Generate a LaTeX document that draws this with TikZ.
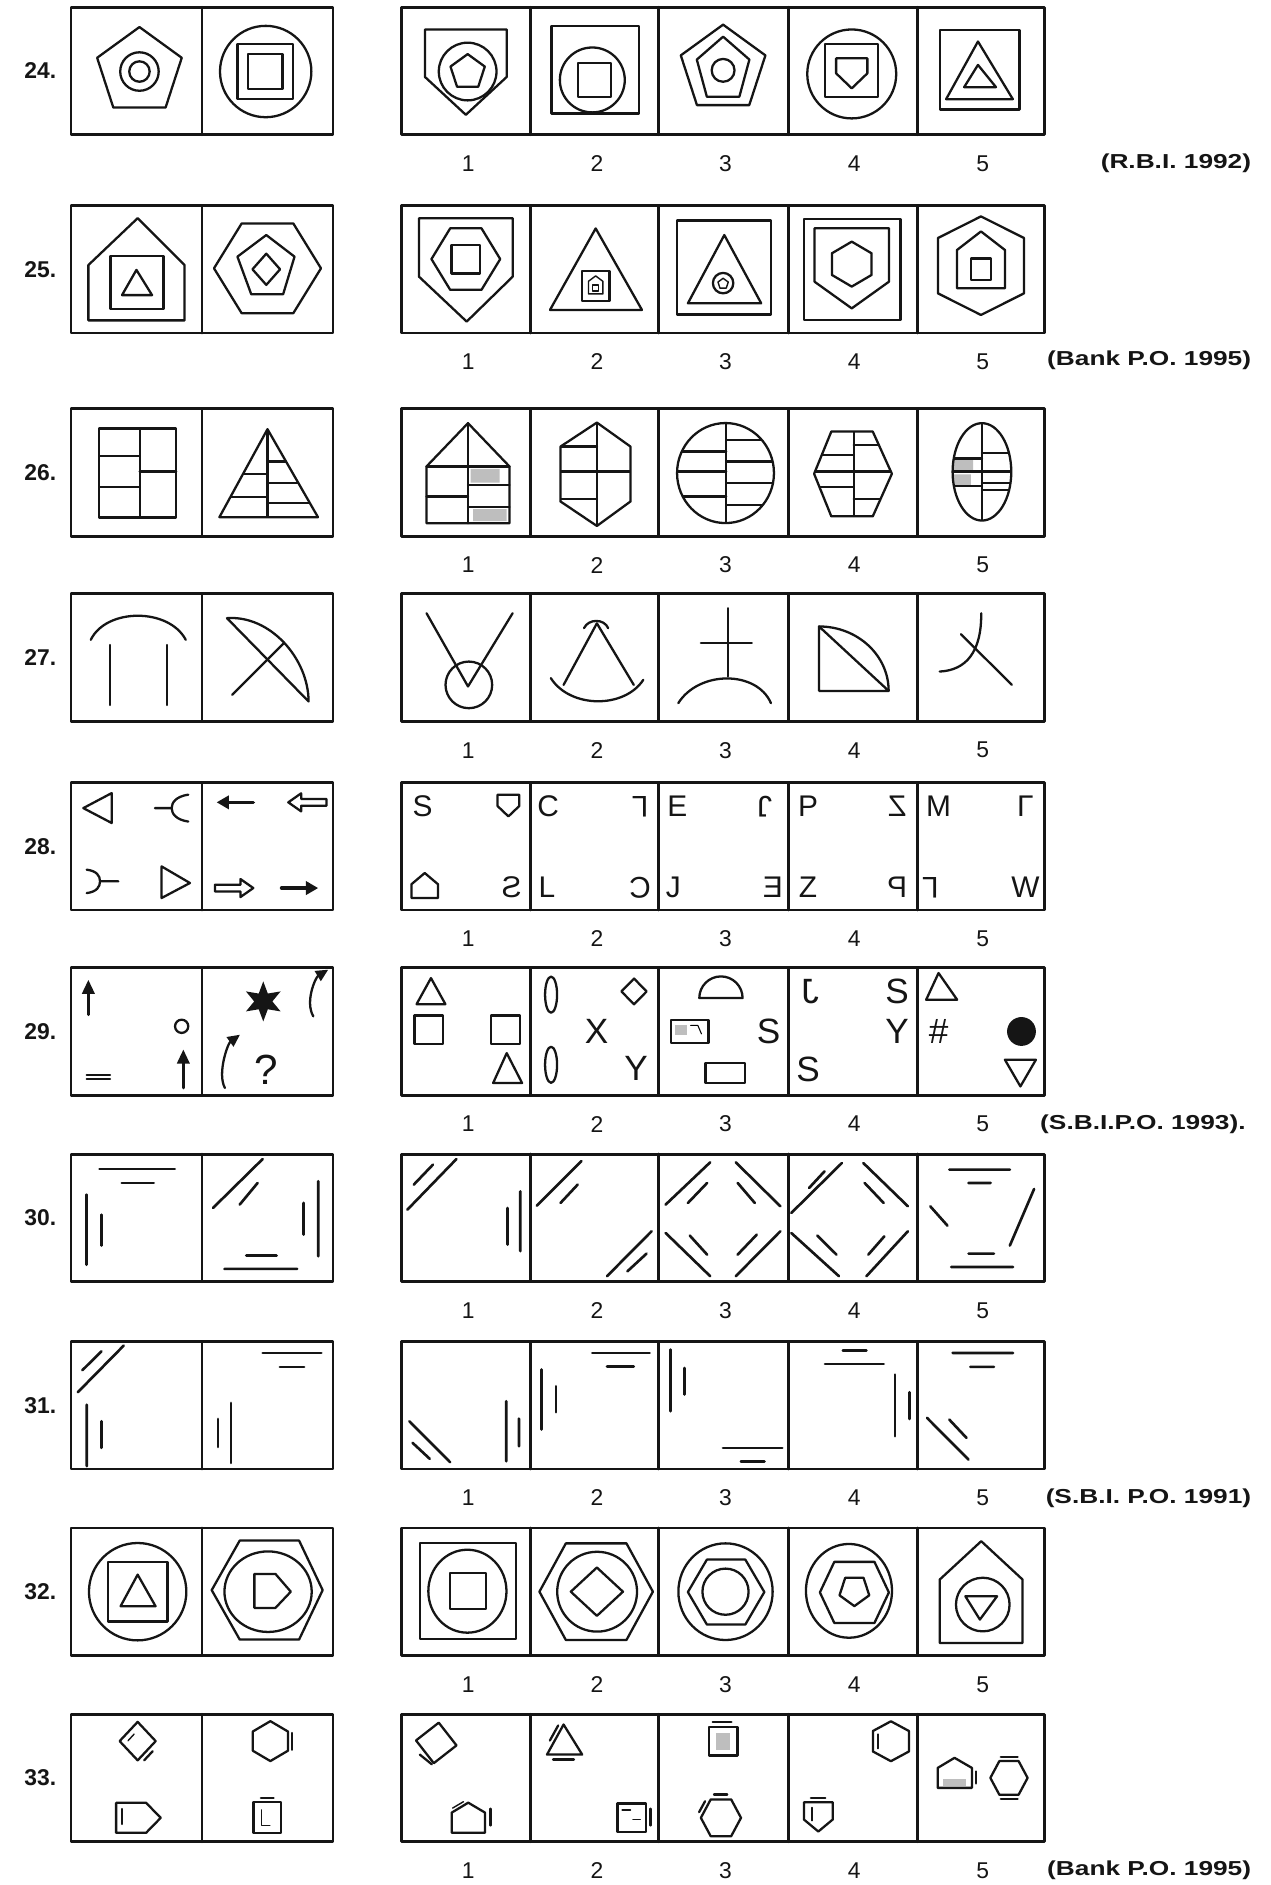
\documentclass[tikz,border=0pt]{standalone}
\usepackage{fontspec}
\setmainfont{Liberation Sans}
\newfontfamily\srcfont[FakeStretch=1.3]{Liberation Sans}
\usepackage{graphicx}
\usepackage{tikz}
\usetikzlibrary{positioning,calc,arrows.meta,shapes.geometric}
\definecolor{pen}{HTML}{151515}
\definecolor{tint}{HTML}{BEBEBE}

\tikzset{
  frame/.style={draw=pen,line width=1.6pt},
  fig/.style={draw=pen,line width=1.3pt},
  bar/.style={draw=pen,line width=1.5pt},
  glyph/.style={inner sep=0pt,text=pen,font=\fontsize{17}{17}\selectfont},
  bigglyph/.style={inner sep=0pt,text=pen,font=\fontsize{20}{20}\selectfont},
  qlabel/.style={anchor=east,inner sep=0pt,text=pen,font=\bfseries\fontsize{13}{13}\selectfont},
  optnum/.style={inner sep=0pt,text=pen,font=\fontsize{13}{13}\selectfont},
  src/.style={inner sep=0pt,text=pen,font=\srcfont\bfseries\fontsize{11.5}{12}\selectfont},
  solid arrow/.style={fig,line width=2pt,-{Triangle[length=7pt,width=7.5pt]}},
  bent arrow/.style={fig,-{Triangle[length=7pt,width=6.5pt]}}
}

% regular-ish outlines, centre given as (x,y)
\newcommand\pentup[4][]{\draw[fig,#1] #2 +(-90:#3 and #4) -- +(-18:#3 and #4) -- +(54:#3 and #4) -- +(126:#3 and #4) -- +(198:#3 and #4) -- cycle;}
\newcommand\pentdown[4][]{\draw[fig,#1] #2 +(90:#3 and #4) -- +(162:#3 and #4) -- +(234:#3 and #4) -- +(306:#3 and #4) -- +(18:#3 and #4) -- cycle;}
\newcommand\hexlr[5][]{\draw[fig,#1] #2 +(-#3,0) -- +(-#4,-#5) -- +(#4,-#5) -- +(#3,0) -- +(#4,#5) -- +(-#4,#5) -- cycle;}
\newcommand\hexud[5][]{\draw[fig,#1] #2 +(0,-#3) -- +(#4,-#5) -- +(#4,#5) -- +(0,#3) -- +(-#4,#5) -- +(-#4,-#5) -- cycle;}

\begin{document}
\begin{tikzpicture}[x=0.02405cm,y=-0.02405cm,line cap=round,line join=round]
  \path[use as bounding box,fill=white] (0,0) rectangle (1057,1568);

  % frames, question numbers and answer numbers
  \foreach \t/\q in {6/24,171/25,340/26,494/27,651/28,805/29,960/30,1116/31,1271/32,1426/33}{
    \draw[frame] (59,\t) rectangle ++(218,106);
    \draw[frame] (168,\t) -- ++(0,106);
    \draw[frame] (334,\t) rectangle ++(535,106);
    \foreach \x in {441,548,656,763} \draw[frame] (\x,\t) -- ++(0,106);
    \node[qlabel] (q\q) at (47,\t+53) {\q.};
    \foreach \k in {1,...,5} \node[optnum] (o\q-\k) at ({389.5+107*(\k-1)},\t+130) {\k};
  }

  \node[src,anchor=east] (s24) at (1041,136) {(R.B.I. 1992)};
  \node[src,anchor=east] (s25) at (1041,300) {(Bank P.O. 1995)};
  \node[src,anchor=west] (s29) at (865,935) {(S.B.I.P.O. 1993).};
  \node[src,anchor=east] (s31) at (1041,1246) {(S.B.I. P.O. 1991)};
  \node[src,anchor=east] (s33) at (1041,1556) {(Bank P.O. 1995)};

  % row 24
  \begin{scope}[shift={(113.5,59.5)}]
    \pentup{(2.5,0)}{37}{37}
    \draw[fig] (2.5,0) circle (16) (2.5,0) circle (8.5);
  \end{scope}
  \begin{scope}[shift={(222.5,59.5)}]
    \draw[fig] (-1.5,0) circle (38);
    \draw[fig] (-2,0) +(-23,-23) rectangle +(23,23) +(-14.5,-14.5) rectangle +(14.5,14.5);
  \end{scope}
  \begin{scope}[shift={(387.5,59.5)}]
    \draw[fig] (-34,-35) -- (34,-35) -- (34,4.5) -- (0,36) -- (-34,4.5) -- cycle;
    \draw[fig] (1.5,0) circle (24);
    \pentup{(1.5,0.5)}{15}{15}
  \end{scope}
  \begin{scope}[shift={(494.5,59.5)}]
    \draw[fig] (0.8,-1.6) +(-36.5,-36.5) rectangle +(36.5,36.5);
    \draw[fig] (-1.8,7) circle (27);
    \draw[fig] (0,7) +(-14,-14) rectangle +(14,14);
  \end{scope}
  \begin{scope}[shift={(601.5,59.5)}]
    \pentup{(0,-2)}{37}{37}
    \pentup{(0,-1.4)}{23}{27.6}
    \draw[fig] (0,-1) circle (9.5);
  \end{scope}
  \begin{scope}[shift={(708.5,59.5)}]
    \draw[fig] (0,2) circle (37);
    \draw[fig] (0,-1) +(-22,-22) rectangle +(22,22);
    \draw[fig] (-13,-11) -- (13,-11) -- (13,1.5) -- (0,14) -- (-13,1.5) -- cycle;
  \end{scope}
  \begin{scope}[shift={(815.5,59.5)}]
    \draw[fig] (-0.5,-1.5) +(-33,-33) rectangle +(33,33);
    \draw[fig] (-2,-25) -- (27,23) -- (-28.5,23) -- cycle;
    \draw[fig] (-2,-5.5) -- (13,13) -- (-13.5,13) -- cycle;
  \end{scope}

  % row 25
  \begin{scope}[shift={(113.5,224.5)}]
    \draw[fig] (1,-43) -- (40,-4) -- (40,42) -- (-40,42) -- (-40,-4) -- cycle;
    \draw[fig] (0.5,10.5) +(-22,-22) rectangle +(22,22);
    \draw[fig] (0,0) -- (13,21) -- (-12,21) -- cycle;
  \end{scope}
  \begin{scope}[shift={(222.5,224.5)}]
    \hexlr{(0,-1.3)}{44.5}{21.5}{37.3}
    \draw[fig] (-1,-29) -- (22.5,-11) -- (13,20.3) -- (-13.5,20.3) -- (-25,-11) -- cycle;
    \draw[fig] (-1,-13.5) -- (10.5,-0.5) -- (-1,12.5) -- (-12.5,-0.5) -- cycle;
  \end{scope}
  \begin{scope}[shift={(387.5,224.5)}]
    \draw[fig] (-39,-43) -- (39,-43) -- (39,5.6) -- (0.7,43) -- (-39,5.6) -- cycle;
    \hexlr{(0,-9)}{28.6}{13}{25.6}
    \draw[fig] (0,-9) +(-12,-12) rectangle +(12,12);
  \end{scope}
  \begin{scope}[shift={(494.5,224.5)}]
    \draw[fig] (1,-34.5) -- (39.5,33.3) -- (-37,33.3) -- cycle;
    \draw[fig] (1,13.3) +(-11.5,-12.5) rectangle +(11.5,12.5);
    \draw[fig,line width=0.8pt] (1,5) -- (7,9.5) -- (7,20) -- (-5,20) -- (-5,9.5) -- cycle;
    \draw[fig,line width=0.8pt] (1,15) +(-2.5,-2.5) rectangle +(2.5,2.5);
  \end{scope}
  \begin{scope}[shift={(601.5,224.5)}]
    \draw[fig] (0.7,-2) +(-39,-39) rectangle +(39,39);
    \draw[fig] (1,-29) -- (31.7,27.8) -- (-29.3,27.8) -- cycle;
    \draw[fig] (0,11) circle (8.5);
    \pentup[line width=0.8pt]{(0,11.5)}{4.5}{4.5}
  \end{scope}
  \begin{scope}[shift={(708.5,224.5)}]
    \draw[fig] (-39.5,-42.5) rectangle (40.5,41.5);
    \draw[fig] (-31,-34.6) -- (31,-34.6) -- (31,9.8) -- (0,32) -- (-31,9.8) -- cycle;
    \hexud{(0,-4.8)}{18.7}{16.5}{9}
  \end{scope}
  \begin{scope}[shift={(815.5,224.5)}]
    \hexud{(0.5,-3.5)}{41}{35.8}{23}
    \draw[fig] (0.5,-32) -- (20.5,-16.5) -- (20.5,15.3) -- (-19.5,15.3) -- (-19.5,-16.5) -- cycle;
    \draw[fig] (0.5,-0.5) +(-8.5,-9) rectangle +(8.5,9);
  \end{scope}

  % row 26
  \begin{scope}[shift={(113.5,393.5)}]
    \draw[fig] (-31,-37) rectangle (33,37);
    \draw[fig] (2.7,-37) -- (2.7,37) (-31,-14.3) -- (2.7,-14.3) (-31,11.7) -- (2.7,11.7) (2.7,-1.3) -- (33,-1.3);
  \end{scope}
  \begin{scope}[shift={(222.5,393.5)}]
    \begin{scope}
      \clip (0,-36.5) -- (42,36.7) -- (-40,36.7) -- cycle;
      \draw[fig] (0,-40) -- (0,40) (-45,0.6) -- (0,0.6) (-45,20) -- (0,20) (0,-9.6) -- (45,-9.6) (0,8.4) -- (45,8.4) (0,25) -- (45,25);
    \end{scope}
    \draw[fig] (0,-36.5) -- (42,36.7) -- (-40,36.7) -- cycle;
  \end{scope}
  \begin{scope}[shift={(387.5,393.5)}]
    \fill[tint] (4,-3.5) rectangle (28,8) (6,30) rectangle (34,40);
    \draw[fig] (1.8,-41.5) -- (36.3,-5.5) -- (36.3,41.7) -- (-32.7,41.7) -- (-32.7,-5.5) -- cycle;
    \draw[fig] (1.8,-41.5) -- (1.8,41.7) (-32.7,-5.5) -- (36.3,-5.5) (-32.7,19.5) -- (1.8,19.5) (1.8,9.8) -- (36.3,9.8) (1.8,28.4) -- (36.3,28.4);
  \end{scope}
  \begin{scope}[shift={(494.5,393.5)}]
    \begin{scope}
      \clip (2,-42) -- (30,-22) -- (30,23.6) -- (2,44) -- (-28.3,23.6) -- (-28.3,-22) -- cycle;
      \draw[fig] (2,-45) -- (2,45) (-35,-1.3) -- (35,-1.3) (-35,-22) -- (2,-22) (-35,21.7) -- (2,21.7);
    \end{scope}
    \draw[fig] (2,-42) -- (30,-22) -- (30,23.6) -- (2,44) -- (-28.3,23.6) -- (-28.3,-22) -- cycle;
  \end{scope}
  \begin{scope}[shift={(601.5,393.5)}]
    \begin{scope}
      \clip (2,0) ellipse [x radius=40.3,y radius=41.6];
      \draw[fig] (2.6,-45) -- (2.6,45) (-45,-18) -- (2.6,-18) (-45,-1.3) -- (2.6,-1.3) (-45,19.5) -- (2.6,19.5)
        (2.6,-27.6) -- (45,-27.6) (2.6,-9.6) -- (45,-9.6) (2.6,8.4) -- (45,8.4) (2.6,26.4) -- (45,26.4);
    \end{scope}
    \draw[fig] (2,0) ellipse [x radius=40.3,y radius=41.6];
  \end{scope}
  \begin{scope}[shift={(708.5,393.5)}]
    \begin{scope}
      \clip (-31.3,0.6) -- (-17,-34.5) -- (17.5,-34.5) -- (33.4,0.6) -- (17.5,36) -- (-17,36) -- cycle;
      \draw[fig] (1.6,-40) -- (1.6,40) (-35,-1.3) -- (35,-1.3) (-35,-15.2) -- (1.6,-15.2) (-35,11.7) -- (1.6,11.7)
        (1.6,-23.5) -- (35,-23.5) (1.6,21.7) -- (35,21.7);
    \end{scope}
    \draw[fig] (-31.3,0.6) -- (-17,-34.5) -- (17.5,-34.5) -- (33.4,0.6) -- (17.5,36) -- (-17,36) -- cycle;
  \end{scope}
  \begin{scope}[shift={(815.5,393.5)}]
    \begin{scope}
      \clip (1.3,-1) ellipse [x radius=24.4,y radius=40.5];
      \fill[tint] (-22,-11) rectangle (-6,-2.5) (-22,1) rectangle (-8,10);
      \draw[fig] (1.3,-45) -- (1.3,45) (-25,-1.3) -- (28,-1.3) (-25,-12) -- (1.3,-12) (-25,11) -- (1.3,11)
        (1.3,-16.5) -- (28,-16.5) (1.3,8.4) -- (28,8.4) (1.3,14) -- (28,14);
    \end{scope}
    \draw[fig] (1.3,-1) ellipse [x radius=24.4,y radius=40.5];
  \end{scope}

  % row 27
  \begin{scope}[shift={(113.5,547.5)}]
    \draw[fig] (-38,-15.3) .. controls (-25,-42) and (27,-42) .. (41,-15.3);
    \draw[fig] (-22,-11) -- (-22,39) (25.5,-11) -- (25.5,39);
  \end{scope}
  \begin{scope}[shift={(222.5,547.5)}]
    \draw[fig] (-33.7,-33.3) .. controls (2,-36) and (34,0) .. (34.2,36) -- cycle;
    \draw[fig] (-29.4,30.5) -- (14,-13);
  \end{scope}
  \begin{scope}[shift={(387.5,547.5)}]
    \draw[fig] (-32.7,-37.4) -- (1.8,23.5) -- (38.9,-37.4);
    \draw[fig] (2.5,22.2) circle (19.4);
  \end{scope}
  \begin{scope}[shift={(494.5,547.5)}]
    \draw[fig] (-25.7,22.2) -- (2,-29) -- (32.7,22.2);
    \draw[fig] (-36.3,16.6) .. controls (-20,42) and (25,42) .. (40.6,18);
    \draw[fig] (-8.7,-25) .. controls (-5,-33) and (8,-33) .. (11.4,-25);
  \end{scope}
  \begin{scope}[shift={(601.5,547.5)}]
    \draw[fig] (4.2,-41.6) -- (4.2,15.2) (-18.5,-12.5) -- (23.9,-12.5);
    \draw[fig] (-37.3,37.4) .. controls (-20,10) and (28,10) .. (39.8,37.4);
  \end{scope}
  \begin{scope}[shift={(708.5,547.5)}]
    \draw[fig] (-27.2,-26.4) -- (-27.2,27.2) -- (30.7,27.2) -- cycle;
    \draw[fig] (-27.2,-26.4) .. controls (4.8,-26.4) and (30.7,-2.4) .. (30.7,27.2);
  \end{scope}
  \begin{scope}[shift={(815.5,547.5)}]
    \draw[fig] (0.7,-37.4) .. controls (1,-5) and (-12,10) .. (-33.8,11.1);
    \draw[fig] (-16.2,-20) -- (26.2,22.2);
  \end{scope}

  % row 28
  \begin{scope}[shift={(113.5,704.5)}]
    \draw[fig] (-44.2,-32.3) -- (-20.6,-44.8) -- (-20.6,-19.9) -- cycle;
    \draw[fig] (15.4,-32.3) -- (29.3,-32.3) (43.1,-43.5) .. controls (33,-42) and (29.3,-37) .. (29.3,-32.3) .. controls (29.3,-27.6) and (33,-22.6) .. (43.1,-21.1);
    \draw[fig] (-15.1,28.6) -- (-30.3,28.6) (-41.4,18.9) .. controls (-33,20) and (-30.3,24) .. (-30.3,28.6) .. controls (-30.3,33.2) and (-33,37.3) .. (-41.4,38.4);
    \draw[fig] (20.9,16.2) -- (44.5,30) -- (20.9,42.5) -- cycle;
  \end{scope}
  \begin{scope}[shift={(222.5,704.5)}]
    \draw[solid arrow] (-11.8,-37.1) -- (-42.3,-37.1);
    \draw[fig] (17.3,-37.1) -- (28,-44.6) -- (28,-39.9) -- (49.1,-39.9) -- (49.1,-34.3) -- (28,-34.3) -- (28,-29.6) -- cycle;
    \draw[fig] (-11.8,34.2) -- (-22.5,26.7) -- (-22.5,31.4) -- (-43.7,31.4) -- (-43.7,37) -- (-22.5,37) -- (-22.5,41.7) -- cycle;
    \draw[solid arrow] (11.7,34.2) -- (42.2,34.2);
  \end{scope}
  \begin{scope}[shift={(387.5,704.5)}]
    \node[glyph] (l281a) at (-36,-33.7) {S};
    \draw[fig] (26.4,-43.5) -- (44.4,-43.5) -- (44.4,-34) -- (35.4,-25.4) -- (26.4,-34) -- cycle;
    \draw[fig] (-34.2,21.7) -- (-23.2,31) -- (-23.2,42.5) -- (-45.2,42.5) -- (-45.2,31) -- cycle;
    \node[glyph] (l281d) at (38.2,33.7) {\scalebox{-1}[1]{S}};
  \end{scope}
  \begin{scope}[shift={(494.5,704.5)}]
    \node[glyph] (l282a) at (-38.5,-33.7) {C};
    \node[glyph] (l282b) at (38,-33.7) {\rotatebox{180}{L}};
    \node[glyph] (l282c) at (-39.5,33.7) {L};
    \node[glyph] (l282d) at (38,33.7) {\rotatebox{180}{C}};
  \end{scope}
  \begin{scope}[shift={(601.5,704.5)}]
    \node[glyph] (l283a) at (-38,-33.7) {E};
    \node[glyph] (l283b) at (34.5,-33.7) {\rotatebox{180}{J}};
    \node[glyph] (l283c) at (-41.5,33.7) {J};
    \node[glyph] (l283d) at (41.5,33.7) {\scalebox{-1}[1]{E}};
  \end{scope}
  \begin{scope}[shift={(708.5,704.5)}]
    \node[glyph] (l284a) at (-36.4,-33.7) {P};
    \node[glyph] (l284b) at (37.8,-33.7) {\scalebox{-1}[1]{Z}};
    \node[glyph] (l284c) at (-36.4,33.7) {Z};
    \node[glyph] (l284d) at (37.8,33.7) {\scalebox{-1}[1]{P}};
  \end{scope}
  \begin{scope}[shift={(815.5,704.5)}]
    \node[glyph] (l285a) at (-34.8,-33.7) {M};
    \node[glyph] (l285b) at (37.5,-33.7) {Γ};
    \node[glyph] (l285c) at (-41.7,33.7) {\rotatebox{180}{L}};
    \node[glyph] (l285d) at (37.5,33.7) {W};
  \end{scope}

  % row 29
  \begin{scope}[shift={(113.5,858)}]
    \draw[fig,line width=1.6pt,-{Triangle[length=8pt,width=7pt]}] (-40,-14) -- (-40,-43);
    \draw[fig] (37.6,-4.3) circle (5.5);
    \draw[fig,line width=1.6pt,-{Triangle[length=8pt,width=7pt]}] (39,47) -- (39,15);
    \draw[fig] (-41.4,36) -- (-22,36) (-41.4,39.5) -- (-22,39.5);
  \end{scope}
  \begin{scope}[shift={(222.5,858)}]
    \node[star,star points=6,star point ratio=2.2,fill=pen,inner sep=0pt,minimum size=0.8cm] (star29) at (-3.5,-25) {};
    \draw[bent arrow] (38.1,-12.6) .. controls (31,-25) and (40,-45) .. (50.5,-51.4);
    \draw[bent arrow] (-35.4,47) .. controls (-42,35) and (-33,10) .. (-22.9,2.7);
    \node[bigglyph,font=\fontsize{24}{24}\selectfont] (qm29) at (-0.7,31.8) {?};
  \end{scope}
  \begin{scope}[shift={(387.5,858)}]
    \draw[fig] (-29,-44.4) -- (-17,-22.7) -- (-41,-22.7) -- cycle;
    \draw[fig] (-30.8,-1.4) +(-12,-12) rectangle +(12,12);
    \draw[fig] (33,-1.4) +(-12,-12) rectangle +(12,12);
    \draw[fig] (34,18) -- (46.8,42.9) -- (22.7,42.9) -- cycle;
  \end{scope}
  \begin{scope}[shift={(494.5,858)}]
    \draw[fig] (-36.1,-30.6) ellipse [x radius=5,y radius=15];
    \draw[fig] (-36.1,27.7) ellipse [x radius=5,y radius=15];
    \draw[fig] (32.9,-44) -- (43.4,-33.3) -- (32.9,-22.6) -- (22.4,-33.3) -- cycle;
    \node[bigglyph] (l292x) at (1.8,0) {X};
    \node[bigglyph] (l292y) at (34.6,30.4) {Y};
  \end{scope}
  \begin{scope}[shift={(601.5,858)}]
    \draw[fig] (-19.8,-27.8) arc[start angle=180,end angle=360,radius=18] -- cycle;
    \fill[tint] (-40,-5) rectangle (-30,3);
    \draw[fig] (-43.1,-9.7) rectangle (-12.1,9.7);
    \draw[line width=0.6pt] (-27,-5) -- (-21,-5) -- (-18,2);
    \node[bigglyph] (l293s) at (37.9,0) {S};
    \draw[fig] (-14.7,26.3) rectangle (18.1,42.9);
  \end{scope}
  \begin{scope}[shift={(708.5,858)}]
    \node[bigglyph] (l294a) at (-34.6,-33.3) {\scalebox{-1}[1]{J}};
    \node[bigglyph] (l294b) at (37.8,-33.3) {S};
    \node[bigglyph] (l294c) at (37.8,0) {Y};
    \node[bigglyph] (l294d) at (-36.4,31.8) {S};
  \end{scope}
  \begin{scope}[shift={(815.5,858)}]
    \draw[fig] (-34.8,-48.6) -- (-19.3,-26.4) -- (-45.1,-26.4) -- cycle;
    \node[bigglyph] (l295h) at (-34.8,0) {\#};
    \fill[pen] (34.2,0) circle (12);
    \draw[fig] (20.4,23.5) -- (46.2,23.5) -- (33.3,45.7) -- cycle;
  \end{scope}

  % row 30
  \begin{scope}[shift={(113.5,1013.5)}]
    \draw[bar] (-30.7,-41.1) -- (31.9,-41.1) (-12.2,-29.5) -- (14.4,-29.5) (-41.3,-19.8) -- (-41.3,38.5) (-29.1,-3.1) -- (-29.1,22.6);
  \end{scope}
  \begin{scope}[shift={(222.5,1013.5)}]
    \draw[bar] (-45.3,-8.7) -- (-4,-49.4) (-23.1,-11.5) -- (-8.2,-29.5) (42.2,-31) -- (42.2,31.5) (30,-13) -- (30,13.5)
      (-17.7,30.9) -- (7.7,30.9) (-35.8,42) -- (24.7,42);
  \end{scope}
  \begin{scope}[shift={(387.5,1013.5)}]
    \draw[bar] (-48.6,-7.3) -- (-7.8,-49.4) (-43.3,-28.1) -- (-27.4,-44.7) (45.3,-22.5) -- (45.3,27.3) (34.7,-8.7) -- (34.7,21.8);
  \end{scope}
  \begin{scope}[shift={(494.5,1013.5)}]
    \draw[bar] (-47.9,-10.6) -- (-10.8,-47.7) (-28.3,-12.8) -- (-14,-28.1) (10.4,48.1) -- (47.5,10.7) (27.4,44) -- (43.3,29.3);
  \end{scope}
  \begin{scope}[shift={(601.5,1013.5)}]
    \draw[bar] (-47.8,-11.5) -- (-10.7,-46.7) (-29.3,-12.8) -- (-13.3,-29.5)
      (10.5,-46.7) -- (47.6,-10.1) (12.1,-29.5) -- (26.4,-12.8)
      (-47.8,12.1) -- (-10.7,48.1) (-27.7,14.3) -- (-13.3,30.1)
      (10.5,48.1) -- (47.6,10.7) (12.1,30.1) -- (28,13.5);
  \end{scope}
  \begin{scope}[shift={(708.5,1013.5)}]
    \draw[bar] (-50.3,-4.5) -- (-8.2,-46.1) (-35.5,-25.3) -- (-22.6,-39.2)
      (9.6,-46.1) -- (46.7,-10.1) (10.7,-29.5) -- (26.6,-12.8)
      (-50.3,12.1) -- (-10.6,48.1) (-28.6,14.3) -- (-12.7,30.1)
      (12.2,48.1) -- (46.7,10.7) (13.8,30.1) -- (27.1,14.9);
  \end{scope}
  \begin{scope}[shift={(815.5,1013.5)}]
    \draw[bar] (-25.8,-40.6) -- (24.5,-40.6) (-9.9,-29.5) -- (8.6,-29.5) (-41.7,-10.1) -- (-27.4,6) (44.7,-24.5) -- (24.5,22.6)
      (-9.9,29.3) -- (11.3,29.3) (-24.2,40.4) -- (27.2,40.4);
  \end{scope}

  % row 31
  \begin{scope}[shift={(113.5,1169)}]
    \draw[bar] (-48.8,-10.9) -- (-10.6,-49.7) (-45,-29.2) -- (-29.1,-45) (-41.3,-0.6) -- (-41.3,50.6) (-29.1,13.2) -- (-29.1,35.4);
  \end{scope}
  \begin{scope}[shift={(222.5,1169)}]
    \draw[bar] (-4,-43.6) -- (44.8,-43.6) (10.3,-32) -- (30.5,-32) (-30.5,-2) -- (-30.5,47.9) (-41.1,11.3) -- (-41.1,34.6);
  \end{scope}
  \begin{scope}[shift={(387.5,1169)}]
    \draw[bar] (-47,13.2) -- (-13.1,47.3) (-44.3,31.2) -- (-30,44.5) (33.6,-3.4) -- (33.6,46.5) (44.2,11) -- (44.2,34);
  \end{scope}
  \begin{scope}[shift={(494.5,1169)}]
    \draw[bar] (-1.8,-43.6) -- (45.9,-43.6) (10.4,-32.5) -- (32.7,-32.5) (-44.2,-29.8) -- (-44.2,20.1) (-32,-15.9) -- (-32,5.7);
  \end{scope}
  \begin{scope}[shift={(601.5,1169)}]
    \draw[bar] (-43.6,-46.4) -- (-43.6,4.9) (-31.9,-31.1) -- (-31.9,-9) (-0.1,35.4) -- (49.2,35.4) (14.8,46.5) -- (34.4,46.5);
  \end{scope}
  \begin{scope}[shift={(708.5,1169)}]
    \draw[bar] (-7.4,-45.8) -- (12.2,-45.8) (-22.2,-34.5) -- (26.6,-34.5) (36.1,-25.6) -- (36.1,25.7) (47.8,-10.9) -- (47.8,11.3);
  \end{scope}
  \begin{scope}[shift={(815.5,1169)}]
    \draw[bar] (-23.1,-43.6) -- (27.2,-43.6) (-8.3,-32) -- (11.3,-32) (-44.4,10.4) -- (-9.9,45.1) (-25.9,11.8) -- (-11.5,27.1);
  \end{scope}

  % row 32
  \begin{scope}[shift={(113.5,1324)}]
    \draw[fig] (1,0) circle (40.5);
    \draw[fig] (1,0) +(-24.8,-24.8) rectangle +(24.8,24.8);
    \draw[fig] (1,-14.2) -- (15.9,12.1) -- (-13.2,12.1) -- cycle;
  \end{scope}
  \begin{scope}[shift={(222.5,1324)}]
    \draw[fig] (-46.4,-1.3) -- (-23.1,-42.5) -- (26.3,-42.5) -- (45.9,-1.3) -- (26.3,39.8) -- (-23.1,39.8) -- cycle;
    \draw[fig] (0.5,0) ellipse [x radius=36.3,y radius=33.5];
    \draw[fig] (-10.9,-14.8) -- (6.6,-14.8) -- (19.4,0) -- (6.6,13.5) -- (-10.9,13.5) -- cycle;
  \end{scope}
  \begin{scope}[shift={(387.5,1324)}]
    \draw[fig] (1.8,-0.4) +(-40,-40) rectangle +(40,40);
    \draw[fig] (1.3,-0.4) ellipse [x radius=32.5,y radius=34.5];
    \draw[fig] (1.8,-0.4) +(-15,-15) rectangle +(15,15);
  \end{scope}
  \begin{scope}[shift={(494.5,1324)}]
    \hexlr{(1.4,0)}{47.2}{25.2}{40.2}
    \draw[fig] (2.2,0) circle (33.2);
    \draw[fig] (2,-20.1) -- (23.7,0) -- (2,20.1) -- (-19.7,0) -- cycle;
  \end{scope}
  \begin{scope}[shift={(601.5,1324)}]
    \draw[fig] (2,0) ellipse [x radius=39.2,y radius=40.2];
    \hexlr{(2.5,0.3)}{31.8}{16}{27}
    \draw[fig] (2,0) circle (19.2);
  \end{scope}
  \begin{scope}[shift={(708.5,1324)}]
    \draw[fig] (-2.3,-0.7) ellipse [x radius=35.8,y radius=39];
    \hexlr{(2.2,0.6)}{28.7}{16.7}{25.4}
    \pentdown{(2.2,-1)}{13}{13}
  \end{scope}
  \begin{scope}[shift={(815.5,1324)}]
    \draw[fig] (0.7,-42) -- (35.1,-10.1) -- (35.1,42.6) -- (-33.8,42.6) -- (-33.8,-10.1) -- cycle;
    \draw[fig] (2,10.7) circle (22.3);
    \draw[fig] (-12.5,3.8) -- (13.9,3.8) -- (-0.4,23.2) -- cycle;
  \end{scope}

  % row 33
  \begin{scope}[shift={(113.5,1479.5)}]
    \draw[fig] (1,-47.2) -- (16,-31.2) -- (1,-15.2) -- (-14,-31.2) -- cycle;
    \draw[fig] (13.5,-22.8) -- (6.5,-15.3);
    \draw[fig,line width=0.8pt] (-7,-31.5) -- (-2,-37);
    \draw[fig] (-16.9,20.1) -- (8,20.1) -- (20.2,32.6) -- (8,45.1) -- (-16.9,45.1) -- cycle;
    \draw[fig,line width=0.8pt] (-12,25) -- (-12,38);
  \end{scope}
  \begin{scope}[shift={(222.5,1479.5)}]
    \hexud{(2.4,-31.2)}{16.6}{14.6}{8}
    \draw[fig] (20.5,-38) -- (20.5,-24);
    \draw[fig] (-11.7,19.7) rectangle (11.1,45.5);
    \draw[fig] (-5.5,16) -- (5.1,16);
    \draw[fig,line width=0.8pt] (-5,26) -- (-5,39) -- (2,39);
  \end{scope}
  \begin{scope}[shift={(387.5,1479.5)}]
    \draw[fig,rotate around={38:(-24.6,-29.7)}] (-24.6,-29.7) +(-12,-12) rectangle +(12,12);
    \draw[fig] (-38.3,-20) -- (-28.3,-11.9);
    \draw[fig] (2,20) -- (16,28.3) -- (16,45) -- (-11.8,45) -- (-11.8,28.3) -- cycle;
    \draw[fig,line width=0.8pt] (-11,24.5) -- (-2,19.2);
    \draw[fig] (20.5,25) -- (20.5,39);
  \end{scope}
  \begin{scope}[shift={(494.5,1479.5)}]
    \draw[fig] (-25.7,-45) -- (-10.2,-20) -- (-39.5,-20) -- cycle;
    \draw[fig] (-30.2,-44.2) -- (-37.1,-31.7);
    \draw[fig] (-34.4,-15.9) -- (-17.1,-15.9);
    \draw[fig] (19.1,20.6) rectangle (43.1,44.6);
    \draw[fig] (46.5,25) -- (46.5,39);
    \draw[fig,line width=0.8pt] (23,26) -- (30,26) (32,34) -- (38,34);
  \end{scope}
  \begin{scope}[shift={(601.5,1479.5)}]
    \fill[tint] (-6,-38) rectangle (6,-24);
    \draw[fig] (-12,-42.9) rectangle (12,-19.3);
    \draw[fig] (-8.6,-47.2) -- (6.9,-47.2);
    \hexlr{(-1.8,32.6)}{16.7}{8.5}{15.3}
    \draw[fig] (-7.6,13.2) -- (3.4,13.2);
    \draw[fig] (-20,27.9) -- (-15,18.8);
  \end{scope}
  \begin{scope}[shift={(708.5,1479.5)}]
    \hexud{(32.6,-31.1)}{16.6}{15}{8.5}
    \draw[fig,line width=0.8pt] (22,-37) -- (22,-25);
    \draw[fig] (-39.8,19.7) -- (-15.8,19.7) -- (-15.8,34) -- (-27.8,44) -- (-39.8,34) -- cycle;
    \draw[fig] (-34,16) -- (-22,16);
    \draw[fig,line width=0.8pt] (-33,24) -- (-33,35);
  \end{scope}
  \begin{scope}[shift={(815.5,1479.5)}]
    \fill[tint] (-31,0) rectangle (-12,6);
    \draw[fig] (-21.5,-17.3) -- (-7,-8.9) -- (-7,7.7) -- (-35.5,7.7) -- (-35.5,-8.9) -- cycle;
    \draw[fig] (-3.5,-6) -- (-3.5,4);
    \hexlr{(23.8,-0.6)}{15.5}{8}{14}
    \draw[fig] (17,-18) -- (31,-18) (17,17) -- (31,17);
  \end{scope}
\end{tikzpicture}
\end{document}
